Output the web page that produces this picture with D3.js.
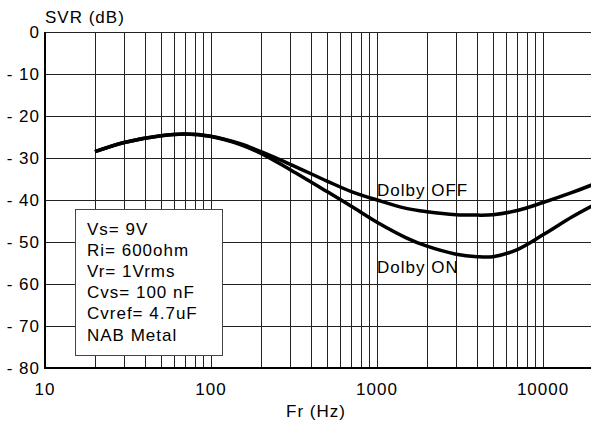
<!DOCTYPE html>
<html>
<head>
<meta charset="utf-8">
<script src="https://cdn.jsdelivr.net/npm/d3@7"></script>
<style>
    body { margin: 0; background: #fff; }
    svg { display: block; }
    text { font-family: "Liberation Sans", Arial, sans-serif; font-size: 17px; letter-spacing: 1px; fill: #000; }
</style>
</head>
<body>
<svg id="chart"></svg>
<script>
    const width = 591;
    const height = 423;

    // data
    const freqs = [20, 30, 50, 70, 100, 150, 200, 300, 500, 700, 1000, 1500, 2000, 3000, 4000, 5000, 7000, 10000, 15000, 20000];
    const dolbyOff = [-28.5, -26.3, -24.7, -24.3, -24.8, -26.6, -28.5, -31.5, -35.5, -38.0, -40.0, -42.0, -42.8, -43.5, -43.6, -43.5, -42.5, -40.6, -38.2, -36.3];
    const dolbyOn = [-28.5, -26.3, -24.7, -24.3, -24.9, -26.8, -28.9, -32.8, -38.0, -41.5, -45.3, -49.0, -51.0, -52.9, -53.5, -53.5, -51.8, -48.3, -44.0, -41.3];
    const yTicks = [0, -10, -20, -30, -40, -50, -60, -70, -80];
    const xTicks = [10, 100, 1000, 10000];
    const notes = ["Vs= 9V", "Ri= 600ohm", "Vr= 1Vrms", "Cvs= 100 nF", "Cvref= 4.7uF", "NAB Metal"];

    const svg = d3.select("#chart")
        .attr("width", width)
        .attr("height", height);

    const x = d3.scaleLog().domain([10, 20000]).range([45, 593]);
    const y = d3.scaleLinear().domain([-80, 0]).range([368, 32]);

    // minor + major vertical grid lines
    const gridX = [];
    for (let dec = 10; dec < 20000; dec *= 10) {
        for (let m = 1; m <= 9; m++) {
            const f = dec * m;
            if (f > 10 && f <= 20000) gridX.push(f);
        }
    }

    svg.selectAll(".vgrid")
        .data(gridX)
        .enter()
        .append("line")
        .attr("class", "vgrid")
        .attr("x1", d => Math.round(x(d)) + 0.5)
        .attr("x2", d => Math.round(x(d)) + 0.5)
        .attr("y1", y(0))
        .attr("y2", y(-80))
        .attr("stroke", "#222")
        .attr("stroke-width", 1);

    svg.selectAll(".hgrid")
        .data(yTicks.filter(d => d > -80))
        .enter()
        .append("line")
        .attr("class", "hgrid")
        .attr("x1", x(10))
        .attr("x2", width)
        .attr("y1", d => Math.round(y(d)) + 0.5)
        .attr("y2", d => Math.round(y(d)) + 0.5)
        .attr("stroke", "#222")
        .attr("stroke-width", 1);

    // axes frame
    svg.append("line")
        .attr("x1", x(10)).attr("x2", x(10))
        .attr("y1", y(0)).attr("y2", y(-80) + 1)
        .attr("stroke", "#000").attr("stroke-width", 2);
    svg.append("line")
        .attr("x1", x(10)).attr("x2", width)
        .attr("y1", y(-80)).attr("y2", y(-80))
        .attr("stroke", "#000").attr("stroke-width", 2);

    // tick labels
    svg.selectAll(".ylab")
        .data(yTicks)
        .enter()
        .append("text")
        .attr("class", "ylab")
        .attr("x", 40)
        .attr("y", d => y(d) + 6)
        .attr("text-anchor", "end")
        .text(d => d === 0 ? "0" : "- " + Math.abs(d));

    svg.selectAll(".xlab")
        .data(xTicks)
        .enter()
        .append("text")
        .attr("class", "xlab")
        .attr("x", d => x(d))
        .attr("y", 395)
        .attr("text-anchor", "middle")
        .text(d => d);

    svg.append("text")
        .attr("x", 45)
        .attr("y", 23)
        .text("SVR (dB)");

    svg.append("text")
        .attr("x", 316)
        .attr("y", 417)
        .attr("text-anchor", "middle")
        .text("Fr (Hz)");

    // curves
    const line = d3.line()
        .x(d => x(d[0]))
        .y(d => y(d[1]))
        .curve(d3.curveCatmullRom.alpha(0.5));

    [dolbyOff, dolbyOn].forEach(series => {
        svg.append("path")
            .datum(freqs.map((f, i) => [f, series[i]]))
            .attr("d", line)
            .attr("fill", "none")
            .attr("stroke", "#000")
            .attr("stroke-width", 3.5)
            .attr("stroke-linejoin", "round");
    });

    svg.append("text")
        .attr("x", 377)
        .attr("y", 196)
        .text("Dolby OFF");

    svg.append("text")
        .attr("x", 377)
        .attr("y", 273)
        .text("Dolby ON");

    // conditions box
    svg.append("rect")
        .attr("x", 75.5)
        .attr("y", 209.5)
        .attr("width", 147)
        .attr("height", 146)
        .attr("fill", "#fff")
        .attr("stroke", "#444")
        .attr("stroke-width", 1);

    svg.selectAll(".note")
        .data(notes)
        .enter()
        .append("text")
        .attr("class", "note")
        .attr("x", 87)
        .attr("y", (d, i) => 235 + i * 21.1)
        .text(d => d);
</script>
</body>
</html>
